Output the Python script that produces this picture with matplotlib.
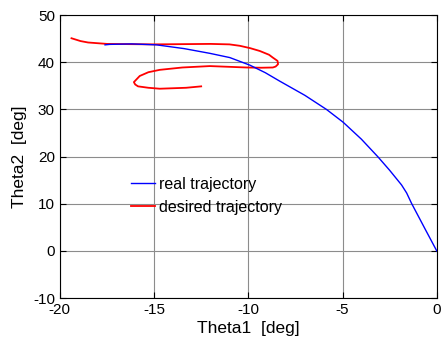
import matplotlib
matplotlib.use("Agg")
import matplotlib.pyplot as plt

# ── data (deg) ────────────────────────────────────────────────────────────────
real_theta1 = [0.0, -0.6, -1.34, -1.6, -1.87, -2.5, -3.11, -4.0, -4.97, -5.85,
               -7.0, -8.33, -9.1, -9.92, -10.98, -12.04, -13.4, -14.87, -16.2, -17.35, -17.6]
real_theta2 = [0.0, 4.5, 10.1, 12.3, 14.0, 17.1, 19.9, 23.7, 27.3, 30.0,
               33.0, 36.0, 37.8, 39.4, 41.0, 41.9, 42.9, 43.7, 43.9, 43.8, 43.7]

des_theta1 = [-19.38, -18.9, -18.5, -17.5, -15.0, -12.0, -11.0, -10.45, -9.9, -9.39,
              -8.9, -8.7, -8.45, -8.42, -8.55, -8.7, -9.3, -10.1, -12.04, -13.5,
              -14.7, -15.3, -15.76, -16.07, -16.0, -15.85, -15.3, -14.7, -13.3, -12.5]
des_theta2 = [45.1, 44.5, 44.2, 43.9, 43.8, 43.9, 43.8, 43.5, 43.0, 42.4,
              41.6, 41.0, 40.3, 39.6, 39.1, 38.9, 38.85, 38.9, 39.2, 38.9,
              38.4, 37.9, 37.1, 35.8, 35.3, 34.9, 34.6, 34.4, 34.6, 34.9]

plt.rcParams["font.family"] = ["Liberation Sans", "DejaVu Sans"]
plt.rcParams["axes.unicode_minus"] = False

fig = plt.figure(figsize=(4.43, 3.52), dpi=100)
ax = fig.add_axes([0.135, 0.153, 0.851, 0.804])

ax.plot(des_theta1, des_theta2, color="red", linewidth=1.3, label="desired trajectory", zorder=3)
ax.plot(real_theta1, real_theta2, color="blue", linewidth=1.0, label="real trajectory", zorder=4)

ax.set_xlim(-20, 0)
ax.set_ylim(-10, 50)
ax.set_xticks([-20, -15, -10, -5, 0])
ax.set_yticks([-10, 0, 10, 20, 30, 40, 50])
ax.grid(True, color="#8c8c8c", linewidth=0.8)
ax.tick_params(direction="in", top=True, right=True, labelsize=11, length=4)
for s in ax.spines.values():
    s.set_linewidth(0.8)

ax.set_xlabel("Theta1  [deg]", fontsize=12.5, labelpad=3)
ax.set_ylabel("Theta2  [deg]", fontsize=12.5, labelpad=4)

handles, labels = ax.get_legend_handles_labels()
ax.legend(handles[::-1], labels[::-1], frameon=False, fontsize=11.5,
          loc="center left", bbox_to_anchor=(0.188, 0.362),
          borderpad=0, borderaxespad=0,
          handlelength=1.5, handletextpad=0.3, labelspacing=0.52)

fig.savefig("out.png", dpi=100)
